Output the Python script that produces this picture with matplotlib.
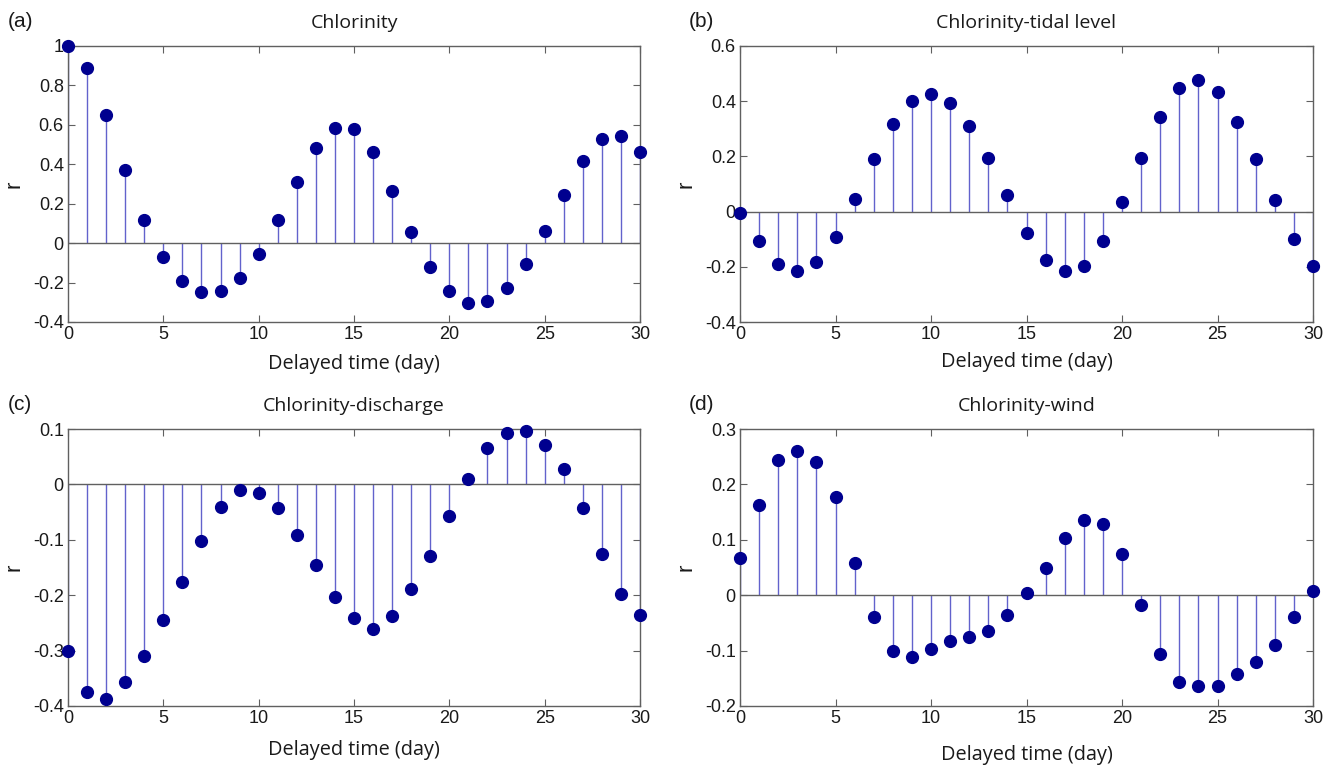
import numpy as np
import matplotlib
matplotlib.use('Agg')
from matplotlib import pyplot as plt

lag = np.arange(31)

r_chlorinity = [1.0, 0.89, 0.649, 0.371, 0.119, -0.069, -0.19, -0.249, -0.241, -0.175,
                -0.054, 0.117, 0.308, 0.481, 0.584, 0.581, 0.461, 0.263, 0.054, -0.122,
                -0.244, -0.303, -0.295, -0.227, -0.108, 0.061, 0.244, 0.417, 0.527, 0.544,
                0.461]
r_tidal = [-0.004, -0.106, -0.189, -0.215, -0.183, -0.092, 0.044, 0.191, 0.318, 0.401,
           0.427, 0.393, 0.311, 0.196, 0.059, -0.077, -0.174, -0.216, -0.196, -0.106,
           0.033, 0.196, 0.343, 0.447, 0.476, 0.432, 0.326, 0.189, 0.041, -0.098,
           -0.198]
r_discharge = [-0.300, -0.375, -0.388, -0.357, -0.309, -0.245, -0.177, -0.103, -0.041, -0.011,
               -0.015, -0.043, -0.092, -0.145, -0.203, -0.242, -0.261, -0.238, -0.189, -0.129,
               -0.057, 0.010, 0.065, 0.093, 0.097, 0.071, 0.027, -0.043, -0.126, -0.197,
               -0.235]
r_wind = [0.068, 0.162, 0.244, 0.261, 0.241, 0.178, 0.059, -0.039, -0.101, -0.112,
          -0.098, -0.083, -0.075, -0.065, -0.035, 0.004, 0.050, 0.104, 0.136, 0.128,
          0.074, -0.018, -0.107, -0.157, -0.163, -0.163, -0.142, -0.121, -0.089, -0.040,
          0.007]

titles = ['Chlorinity', 'Chlorinity-tidal level', 'Chlorinity-discharge', 'Chlorinity-wind']
tags = ['(a)', '(b)', '(c)', '(d)']
ylims = [(-0.4, 1.0), (-0.4, 0.6), (-0.4, 0.1), (-0.2, 0.3)]
ysteps = [0.2, 0.2, 0.1, 0.1]

# Achsenpositionen in Pixel (links, oben, rechts, unten)
boxes = [(68, 46, 640, 322), (740, 46, 1313, 322),
         (68, 429, 640, 706), (740, 429, 1313, 706)]
xlabel_pads = [8, 6, 9, 13]

W, H = 1332, 765
fig = plt.figure(figsize=(W / 100, H / 100), dpi=100)

tick_font = 'Liberation Sans'
text_font = 'Open Sans'

for i, r in enumerate([r_chlorinity, r_tidal, r_discharge, r_wind]):
    x0, y0, x1, y1 = boxes[i]
    ax = fig.add_axes([x0 / W, 1 - y1 / H, (x1 - x0) / W, (y1 - y0) / H])
    markers, stems, base = ax.stem(lag, r, linefmt='-', markerfmt='o', basefmt='-')
    stems.set_color('#6262cc')
    stems.set_linewidth(1.0)
    markers.set_color('#00008f')
    markers.set_markersize(8.5)
    markers.set_clip_on(False)
    markers.set_zorder(5)
    base.set_color('#606060')
    base.set_linewidth(1.0)

    ax.set_xlim(0, 30)
    ax.set_ylim(*ylims[i])
    ax.set_xticks(np.arange(0, 31, 5))
    lo, hi = ylims[i]
    yt = np.round(np.arange(lo, hi + 1e-9, ysteps[i]), 2)
    ax.set_yticks(yt)
    ax.set_yticklabels(['0' if abs(v) < 1e-9 else ('%g' % v) for v in yt])
    ax.tick_params(direction='in', top=True, right=True, length=5, width=0.8,
                   colors='#606060', labelcolor='#1a1a1a', labelsize=13, pad=3)
    for lab in ax.get_xticklabels() + ax.get_yticklabels():
        lab.set_family(tick_font)
    for sp in ax.spines.values():
        sp.set_color('#606060')
        sp.set_linewidth(1.0)

    ax.set_title(titles[i], fontsize=14, family=text_font, color='#1a1a1a', pad=13)
    ax.set_xlabel('Delayed time (day)', fontsize=14.3, family=text_font, color='#1a1a1a',
                  labelpad=xlabel_pads[i])
    ax.set_ylabel('r', fontsize=16, family=tick_font, color='#1a1a1a', labelpad=6)
    ax.text(-0.105 if i % 2 == 0 else -0.09, 1.055, tags[i], transform=ax.transAxes,
            fontsize=15, family=tick_font, color='#1a1a1a', va='bottom', ha='left')

fig.savefig('out.png', dpi=100, facecolor='white')
